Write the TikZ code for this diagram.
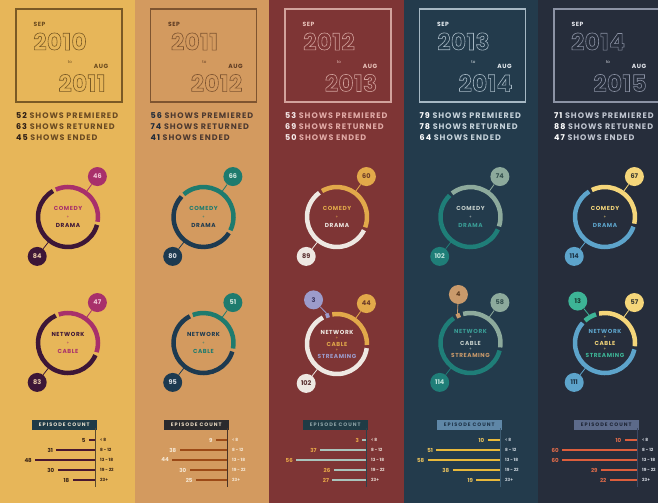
\documentclass[tikz,border=0pt]{standalone}
\usepackage{fontspec}
\setmainfont{Poppins}
\newfontfamily\capsfont[LetterSpace=10]{Poppins}
\newfontfamily\statfont[LetterSpace=12]{Poppins}
\newfontfamily\widefont[LetterSpace=20]{Poppins}
\newfontfamily\yearfont[LetterSpace=2]{Poppins}
\usetikzlibrary{calc}

% column colours
\definecolor{c1bg}{HTML}{E7B659}\definecolor{c1fr}{HTML}{7A5A25}\definecolor{c1mo}{HTML}{6A4A1E}
\definecolor{c1st}{HTML}{6B4B22}\definecolor{c1num}{HTML}{2B1C14}
\definecolor{c1A}{HTML}{A8306B}\definecolor{c1B}{HTML}{3D1637}
\definecolor{c1At}{HTML}{F2C4D4}\definecolor{c1Bt}{HTML}{E9C9A8}
\definecolor{c1bx}{HTML}{1F3A47}\definecolor{c1bt}{HTML}{E9E1D0}\definecolor{c1br}{HTML}{4A1830}
\definecolor{c1bn}{HTML}{3A2416}\definecolor{c1rg}{HTML}{3A2416}\definecolor{c1ax}{HTML}{5C4A2E}

\definecolor{c2bg}{HTML}{D39A5F}\definecolor{c2fr}{HTML}{7E5430}\definecolor{c2mo}{HTML}{5C3A22}
\definecolor{c2st}{HTML}{4E3A30}\definecolor{c2num}{HTML}{1E2A3A}
\definecolor{c2A}{HTML}{1E7B6E}\definecolor{c2B}{HTML}{1D3A50}
\definecolor{c2At}{HTML}{CFE6DD}\definecolor{c2Bt}{HTML}{D8DDE3}
\definecolor{c2bx}{HTML}{2A2A2D}\definecolor{c2bt}{HTML}{E8D9C2}\definecolor{c2br}{HTML}{9C4A17}
\definecolor{c2bn}{HTML}{F6E8D4}\definecolor{c2rg}{HTML}{F6E8D4}\definecolor{c2ax}{HTML}{4A3326}

\definecolor{c3bg}{HTML}{7E3535}\definecolor{c3fr}{HTML}{D2A29C}\definecolor{c3mo}{HTML}{EAC4BC}
\definecolor{c3st}{HTML}{E0A9A5}\definecolor{c3num}{HTML}{F6ECEB}
\definecolor{c3A}{HTML}{E2A94A}\definecolor{c3B}{HTML}{EEE8E2}\definecolor{c3S}{HTML}{9C9BCB}
\definecolor{c3At}{HTML}{6A3A28}\definecolor{c3Bt}{HTML}{5A3030}\definecolor{c3St}{HTML}{3A3560}
\definecolor{c3bx}{HTML}{1F3B45}\definecolor{c3bt}{HTML}{8DA3A6}\definecolor{c3br}{HTML}{A9C4BC}
\definecolor{c3bn}{HTML}{E8A848}\definecolor{c3rg}{HTML}{E8DAD2}\definecolor{c3ax}{HTML}{2C414A}

\definecolor{c4bg}{HTML}{233B4C}\definecolor{c4fr}{HTML}{A6B8C4}\definecolor{c4mo}{HTML}{E8EEF2}
\definecolor{c4st}{HTML}{C5D2DA}\definecolor{c4num}{HTML}{FFFFFF}
\definecolor{c4A}{HTML}{8DAA9C}\definecolor{c4B}{HTML}{1F7E78}\definecolor{c4S}{HTML}{C99A6B}
\definecolor{c4At}{HTML}{34504E}\definecolor{c4Bt}{HTML}{BDE2DA}\definecolor{c4St}{HTML}{5A3A20}
\definecolor{c4bx}{HTML}{5F87A7}\definecolor{c4bt}{HTML}{1D3247}\definecolor{c4br}{HTML}{E8B93C}
\definecolor{c4bn}{HTML}{E9C25E}\definecolor{c4rg}{HTML}{C9D2DA}\definecolor{c4ax}{HTML}{3D5C72}
\definecolor{c4lA}{HTML}{C6D0CC}\definecolor{c4lB}{HTML}{3A9D96}

\definecolor{c5bg}{HTML}{262D3B}\definecolor{c5fr}{HTML}{8C93A5}\definecolor{c5mo}{HTML}{E6E8EE}
\definecolor{c5st}{HTML}{C0C5D0}\definecolor{c5num}{HTML}{FFFFFF}
\definecolor{c5A}{HTML}{F5D67A}\definecolor{c5B}{HTML}{5DA4CB}\definecolor{c5S}{HTML}{3DB496}
\definecolor{c5At}{HTML}{3A3A30}\definecolor{c5Bt}{HTML}{1E3648}\definecolor{c5St}{HTML}{173A30}
\definecolor{c5bx}{HTML}{5C6A8A}\definecolor{c5bt}{HTML}{1E2535}\definecolor{c5br}{HTML}{DD5E3C}
\definecolor{c5bn}{HTML}{E26C4A}\definecolor{c5rg}{HTML}{D8DCE4}\definecolor{c5ax}{HTML}{3C4862}

\newcommand{\outlined}[1]{\special{pdf:literal direct 1 Tr 0.6 w}#1\special{pdf:literal direct 0 Tr}}

\tikzset{
  every node/.style={inner sep=0pt},
  yearframe/.style={line width=1.2pt},
  monthlabel/.style={font=\capsfont\bfseries\fontsize{6}{6}\selectfont},
  yearlabel/.style={font=\yearfont\bfseries\fontsize{23}{23}\selectfont},
  statline/.style={anchor=west, font=\statfont\bfseries\fontsize{8}{9}\selectfont},
  ringseg/.style={line width=4.5pt},
  badgedot/.style={circle, minimum size=19pt, font=\bfseries\fontsize{6.5}{7}\selectfont},
  genrelabel/.style={font=\capsfont\bfseries\fontsize{5.8}{6}\selectfont},
  plussign/.style={font=\fontsize{4}{4}\selectfont},
  countbox/.style={minimum width=65pt, minimum height=10pt, font=\widefont\bfseries\fontsize{5}{5}\selectfont},
  barline/.style={line width=1.8pt},
  barnum/.style={anchor=east, font=\bfseries\fontsize{5.5}{6}\selectfont},
  rangelabel/.style={anchor=west, font=\bfseries\fontsize{4.3}{4}\selectfont},
}

% #1 column, #2 first year, #3 second year, #4 premiered, #5 returned, #6 ended
\newcommand{\header}[6]{
  \draw[yearframe, c#1fr] (16,-9) rectangle (122,-102);
  \node[monthlabel, text=c#1mo] (sep#1) at (39.5,-24.5) {SEP};
  \node[yearlabel, text=c#1fr] (from#1) at (60,-41.5) {\outlined{#2}};
  \node[plussign, text=c#1mo] (to#1) at (70,-62) {to};
  \node[monthlabel, text=c#1mo] (aug#1) at (101,-66) {AUG};
  \node[yearlabel, text=c#1fr] (till#1) at (82,-83) {\outlined{#3}};
  \node[statline, text=c#1st] (prem#1) at (16,-116) {\textcolor{c#1num}{#4} SHOWS PREMIERED};
  \node[statline, text=c#1st] (ret#1) at (16,-127) {\textcolor{c#1num}{#5} SHOWS RETURNED};
  \node[statline, text=c#1st] (end#1) at (16,-137.5) {\textcolor{c#1num}{#6} SHOWS ENDED};
}

% #1 name, #2 centre, #3 ring angle, #4 badge angle, #5 value, #6 fill, #7 text
\newcommand{\badge}[7]{
  \coordinate (#1r) at ($(#2)+(#3:32)$);
  \node[badgedot, fill=#6, text=#7] (#1) at ($(#2)+(#4:50)$) {#5};
  \draw[#6, line width=0.8pt] (#1r) -- (#1);
}

% #1 column, #2 chart, #3 start angle, #4 value A, #5 value B
\newcommand{\donut}[5]{
  \pgfmathsetmacro\aend{#3-#4/(#4+#5)*348}
  \pgfmathsetmacro\bstart{\aend-6}
  \draw[ringseg, c#1A] (#2#1) ++(#3:30) arc[start angle=#3, end angle=\aend, radius=30];
  \draw[ringseg, c#1B] (#2#1) ++(\bstart:30) arc[start angle=\bstart, end angle=#3-354, radius=30];
  \badge{#2#1a}{#2#1}{54}{54}{#4}{c#1A}{c#1At}
  \badge{#2#1b}{#2#1}{232}{232}{#5}{c#1B}{c#1Bt}
}

% #1 column, #2 start angle, #3 streaming, #4 cable, #5 network, #6 streaming badge angle
\newcommand{\tridonut}[6]{
  \pgfmathsetmacro\send{#2-#3/(#3+#4+#5)*342}
  \pgfmathsetmacro\astart{\send-6}
  \pgfmathsetmacro\aend{\astart-#4/(#3+#4+#5)*342}
  \pgfmathsetmacro\bstart{\aend-6}
  \pgfmathsetmacro\smid{(#2+\send)/2}
  \draw[ringseg, c#1S] (n#1) ++(#2:30) arc[start angle=#2, end angle=\send, radius=30];
  \draw[ringseg, c#1A] (n#1) ++(\astart:30) arc[start angle=\astart, end angle=\aend, radius=30];
  \draw[ringseg, c#1B] (n#1) ++(\bstart:30) arc[start angle=\bstart, end angle=#2-354, radius=30];
  \badge{n#1s}{n#1}{\smid}{#6}{#3}{c#1S}{c#1St}
  \badge{n#1a}{n#1}{54}{54}{#4}{c#1A}{c#1At}
  \badge{n#1b}{n#1}{232}{232}{#5}{c#1B}{c#1Bt}
}

% #1 column, #2 axis x, #3-#7 episode counts
\newcommand{\episodes}[7]{
  \node[countbox, fill=c#1bx, text=c#1bt, anchor=south east] (box#1) at (#2+2,-430) {EPISODE COUNT};
  \draw[c#1ax, line width=0.8pt] (#2,-428) coordinate (top#1) -- (#2,-487) coordinate (foot#1);
  \foreach \v/\r [count=\k] in {#3/{< 8},#4/{8 - 12},#5/{13 - 18},#6/{19 - 22},#7/{23+}} {
    \coordinate (tip#1\k) at (#2,-430-10*\k);
    \draw[barline, c#1br] (tip#1\k) -- ++(-1.25*\v,0) coordinate (tail#1\k);
    \node[barnum, text=c#1bn] (num#1\k) at ($(tail#1\k)+(-3,0)$) {\v};
    \node[rangelabel, text=c#1rg] (rng#1\k) at ($(tip#1\k)+(5,0)$) {\r};
  }
}

\begin{document}
\begin{tikzpicture}[x=1pt,y=1pt]
\useasboundingbox (0,0) rectangle (658,-503);
\fill[c1bg] (0,0) rectangle (134.5,-503);
\fill[c2bg] (134.5,0) rectangle (269,-503);
\fill[c3bg] (269,0) rectangle (403.5,-503);
\fill[c4bg] (403.5,0) rectangle (538,-503);
\fill[c5bg] (538,0) rectangle (658,-503);

% 2010 - 2011
\begin{scope}
\header{1}{2010}{2011}{52}{63}{45}
\coordinate (g1) at (68,-217);
\donut{1}{g}{114}{46}{84}
\node[genrelabel, text=c1A] (com1) at (68,-208.5) {COMEDY};
\node[plussign, text=c1A] (pg1) at (68,-217) {+};
\node[genrelabel, text=c1B] (dra1) at (68,-225.5) {DRAMA};
\coordinate (n1) at (68,-343);
\donut{1}{n}{108}{47}{83}
\node[genrelabel, text=c1B] (net1) at (68,-334.5) {NETWORK};
\node[plussign, text=c1A] (pn1) at (68,-343) {+};
\node[genrelabel, text=c1A] (cab1) at (68,-351.5) {CABLE};
\episodes{1}{95}{5}{31}{48}{30}{18}
\end{scope}

% 2011 - 2012
\begin{scope}[shift={(134.5,0)}]
\header{2}{2011}{2012}{56}{74}{41}
\coordinate (g2) at (69,-217);
\donut{2}{g}{131}{66}{80}
\node[genrelabel, text=c2A] (com2) at (69,-208.5) {COMEDY};
\node[plussign, text=c2A] (pg2) at (69,-217) {+};
\node[genrelabel, text=c2B] (dra2) at (69,-225.5) {DRAMA};
\coordinate (n2) at (69,-343);
\donut{2}{n}{111}{51}{95}
\node[genrelabel, text=c2B] (net2) at (69,-334.5) {NETWORK};
\node[plussign, text=c2A] (pn2) at (69,-343) {+};
\node[genrelabel, text=c2A] (cab2) at (69,-351.5) {CABLE};
\episodes{2}{92.5}{9}{38}{44}{30}{25}
\end{scope}

% 2012 - 2013
\begin{scope}[shift={(269,0)}]
\header{3}{2012}{2013}{53}{69}{50}
\coordinate (g3) at (68,-217);
\donut{3}{g}{120}{60}{89}
\node[genrelabel, text=c3A] (com3) at (68,-208.5) {COMEDY};
\node[plussign, text=c3A] (pg3) at (68,-217) {+};
\node[genrelabel, text=c3B] (dra3) at (68,-225.5) {DRAMA};
\coordinate (n3) at (68,-344);
\tridonut{3}{112}{3}{44}{102}{118}
\node[genrelabel, text=c3B] (net3) at (68,-332) {NETWORK};
\node[plussign, text=c3A] (pn3) at (68,-338) {+};
\node[genrelabel, text=c3A] (cab3) at (68,-344) {CABLE};
\node[plussign, text=c3A] (ps3) at (68,-350) {+};
\node[genrelabel, text=c3S] (str3) at (68,-356) {STREAMING};
\episodes{3}{97}{3}{37}{56}{26}{27}
\end{scope}

% 2013 - 2014
\begin{scope}[shift={(403.5,0)}]
\header{4}{2013}{2014}{79}{78}{64}
\coordinate (g4) at (67,-217);
\donut{4}{g}{128}{74}{102}
\node[genrelabel, text=c4lA] (com4) at (67,-208.5) {COMEDY};
\node[plussign, text=c4lA] (pg4) at (67,-217) {+};
\node[genrelabel, text=c4lB] (dra4) at (67,-225.5) {DRAMA};
\coordinate (n4) at (67,-343);
\tridonut{4}{118}{4}{58}{114}{104}
\node[genrelabel, text=c4lB] (net4) at (67,-331) {NETWORK};
\node[plussign, text=c4lA] (pn4) at (67,-337) {+};
\node[genrelabel, text=c4lA] (cab4) at (67,-343) {CABLE};
\node[plussign, text=c4lA] (ps4) at (67,-349) {+};
\node[genrelabel, text=c4S] (str4) at (67,-355) {STREAMING};
\episodes{4}{96.5}{10}{51}{58}{38}{19}
\end{scope}

% 2014 - 2015
\begin{scope}[shift={(538,0)}]
\header{5}{2014}{2015}{71}{88}{47}
\coordinate (g5) at (67,-217);
\donut{5}{g}{116}{67}{114}
\node[genrelabel, text=c5A] (com5) at (67,-208.5) {COMEDY};
\node[plussign, text=c5A] (pg5) at (67,-217) {+};
\node[genrelabel, text=c5B] (dra5) at (67,-225.5) {DRAMA};
\coordinate (n5) at (67,-343);
\tridonut{5}{132}{13}{57}{111}{123}
\node[genrelabel, text=c5B] (net5) at (67,-331) {NETWORK};
\node[plussign, text=c5A] (pn5) at (67,-337) {+};
\node[genrelabel, text=c5A] (cab5) at (67,-343) {CABLE};
\node[plussign, text=c5A] (ps5) at (67,-349) {+};
\node[genrelabel, text=c5S] (str5) at (67,-355) {STREAMING};
\episodes{5}{99}{10}{60}{60}{29}{22}
\end{scope}
\end{tikzpicture}
\end{document}
